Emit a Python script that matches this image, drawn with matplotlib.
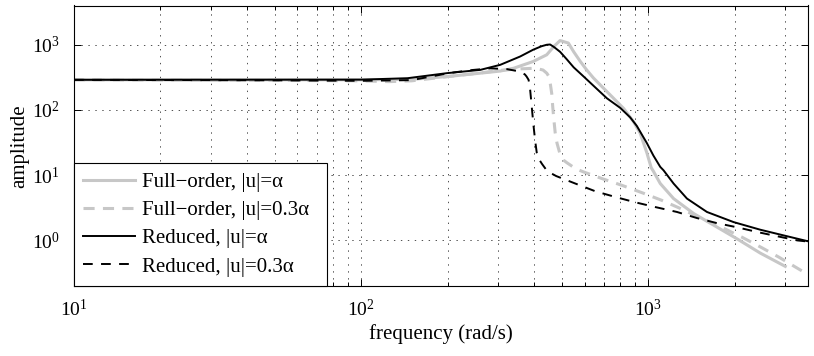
# frequency response of full-order vs reduced model, two input amplitudes
import numpy as np
import matplotlib
matplotlib.use("Agg")
import matplotlib.pyplot as plt
from matplotlib.ticker import LogLocator, LogFormatterMathtext, NullLocator

# --- data (frequency in rad/s, amplitude) ---
full_a_freq = [10, 100, 150, 199, 260, 305, 340, 397, 443, 470, 493, 527, 550, 579,
               610, 644, 680, 757, 820, 889, 937, 989, 1024, 1042, 1101, 1225, 1440,
               1735, 2036, 2454, 3000]
full_a_amp = [290, 290, 295, 325, 367, 395, 437, 553, 702, 950, 1160, 1062, 780, 560,
              412, 310, 243, 151, 106, 66, 44, 22, 13, 11.5, 7.45, 4.38, 2.58,
              1.60, 1.06, 0.64, 0.40]

full_03_freq = [10, 50, 100, 125, 150, 200, 260, 305, 350, 404, 430, 443, 450, 456,
                461, 465, 468, 474, 481, 493, 507, 521, 560, 596, 694, 809, 961, 1117,
                1291, 1537, 1806, 2120, 2490, 2858, 3225, 3600]
full_03_amp = [290, 285, 280, 272, 280, 325, 370, 405, 425, 437, 410, 367, 330, 250,
               180, 110, 79, 45, 31, 21, 17, 15.5, 12.5, 11.2, 8.8, 7.0, 5.3, 4.1,
               3.1, 2.16, 1.58, 1.12, 0.77, 0.55, 0.40, 0.30]

red_a_freq = [10, 100, 145, 199, 260, 305, 358, 397, 425, 443, 455, 470, 493, 520,
              550, 596, 658, 718, 798, 865, 912, 989, 1042, 1101, 1130, 1225, 1364,
              1601, 1982, 2454, 3041, 3600]
red_a_amp = [290, 292, 307, 367, 412, 492, 661, 838, 950, 1000, 1010, 920, 780, 600,
             450, 325, 216, 151, 108, 77, 57, 31, 20, 13.4, 11.9, 7.45, 4.38,
             2.73, 1.91, 1.46, 1.16, 0.97]

red_03_freq = [10, 50, 100, 150, 204, 244, 282, 322, 358, 372, 377, 383, 388, 393,
               398, 404, 409, 415, 426, 445, 478, 557, 654, 767, 901, 1057, 1259,
               1479, 1735, 2051, 2405, 2836, 3304, 3600]
red_03_amp = [290, 285, 280, 287, 370, 410, 435, 423, 388, 350, 325, 290, 200, 110,
              60, 33, 22, 18, 15, 11.5, 9.7, 7.45, 5.67, 4.64, 3.84, 3.25, 2.73,
              2.2, 1.84, 1.58, 1.34, 1.15, 1.0, 0.96]

labels = ["Full\u2212order, |u|=\u03b1", "Full\u2212order, |u|=0.3\u03b1",
          "Reduced, |u|=\u03b1", "Reduced, |u|=0.3\u03b1"]

# --- style ---
plt.rcParams['font.family'] = ['Liberation Serif', 'DejaVu Serif']
plt.rcParams['mathtext.fontset'] = 'custom'
plt.rcParams['mathtext.rm'] = 'Liberation Serif'
plt.rcParams['mathtext.it'] = 'Liberation Serif:italic'
plt.rcParams['lines.scale_dashes'] = False

gray = '0.78'

fig = plt.figure(figsize=(8.14, 3.56), dpi=100)
ax = fig.add_axes([74 / 814, 1 - 286 / 356, (808 - 74) / 814, (286 - 5.5) / 356])

ax.plot(full_a_freq, full_a_amp, color=gray, lw=2.2, label=labels[0])
ax.plot(full_03_freq, full_03_amp, color=gray, lw=2.2, linestyle=(0, (8, 6)), label=labels[1])
ax.plot(red_a_freq, red_a_amp, color='k', lw=1.4, label=labels[2])
ax.plot(red_03_freq, red_03_amp, color='k', lw=1.4, linestyle=(0, (7, 6)), label=labels[3])

ax.set_xscale('log')
ax.set_yscale('log')
ax.set_xlim(10, 3600)
ax.set_ylim(0.2, 4000)

ax.xaxis.set_major_locator(LogLocator(base=10, numticks=10))
ax.xaxis.set_minor_locator(LogLocator(base=10, subs=np.arange(2, 10), numticks=20))
ax.yaxis.set_major_locator(LogLocator(base=10, numticks=10))
ax.yaxis.set_minor_locator(NullLocator())
ax.xaxis.set_major_formatter(LogFormatterMathtext())
ax.yaxis.set_major_formatter(LogFormatterMathtext())

ax.tick_params(which='both', direction='in', top=True, right=True, labelsize=14)
ax.tick_params(which='major', length=5, width=0.7)
ax.tick_params(which='minor', length=3, width=0.7)
ax.tick_params(axis='x', pad=9)
ax.tick_params(axis='y', pad=10)

ax.grid(True, which='major', axis='both', color='0.2', linestyle=(0, (1, 4)), linewidth=0.6)
ax.grid(True, which='minor', axis='x', color='0.2', linestyle=(0, (1, 4)), linewidth=0.6)
for s in ax.spines.values():
    s.set_linewidth(0.8)

ax.set_xlabel("frequency (rad/s)", fontsize=15, labelpad=3)
ax.set_ylabel("amplitude", fontsize=15, labelpad=2)

leg = ax.legend(loc='lower left', bbox_to_anchor=(0, 0, (326.7 - 74) / 734, 1),
                mode='expand', fontsize=15, frameon=True, fancybox=False,
                edgecolor='k', framealpha=1, borderaxespad=0, handlelength=2.5,
                handletextpad=0.3, labelspacing=0.41, borderpad=0.45)
leg.get_frame().set_linewidth(0.8)

fig.savefig("out.png", dpi=100)
